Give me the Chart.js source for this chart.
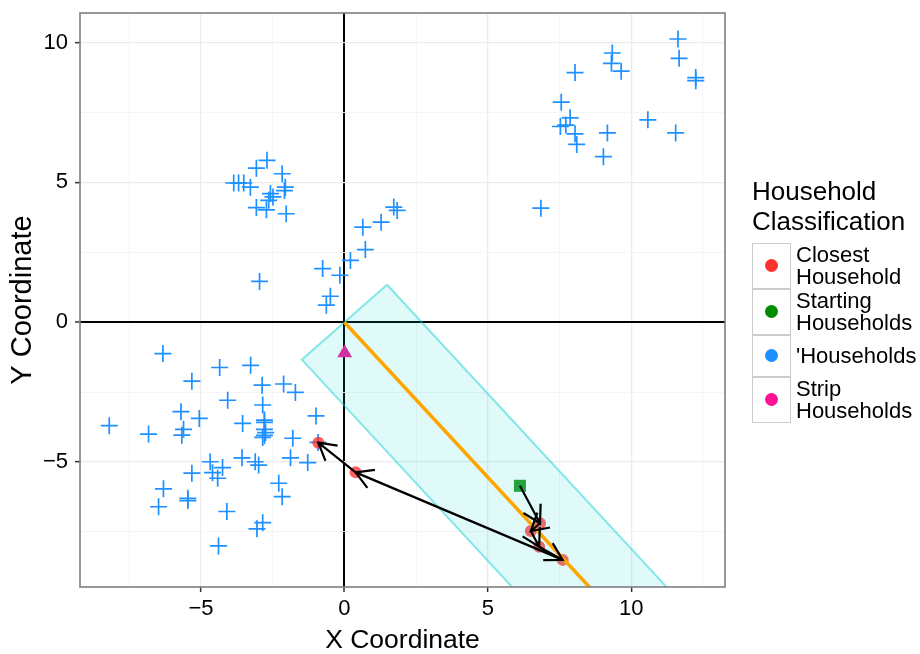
<!DOCTYPE html>
<html>
<head>
<meta charset="utf-8">
<script src="https://cdn.jsdelivr.net/npm/chart.js@4.4.0/dist/chart.umd.min.js"></script>
<style>
  body { margin: 0; background: #fff; }
  #wrap { position: relative; width: 920px; height: 654px; font-family: "Liberation Sans", Arial, sans-serif; }
  #legend { position: absolute; left: 752px; top: 176px; color: #000; }
  #legend .title { font-size: 26px; line-height: 30px; margin-bottom: 6.7px; }
  .row { display: flex; align-items: stretch; min-height: 42px; }
  .key { width: 39px; box-sizing: border-box; border: 1.3px solid #cccccc; position: relative; }
  .key span { position: absolute; left: 50%; top: 50%; width: 13px; height: 13px; margin: -6.5px 0 0 -6.5px; border-radius: 50%; }
  .lab { font-size: 22px; line-height: 22px; padding: 1px 0 1px 5px; display: flex; align-items: center; white-space: pre-line; }
</style>
</head>
<body>
<div id="wrap">
  <canvas id="myChart" width="920" height="654"></canvas>
  <div id="legend"><div class="title">Household<br>Classification</div><div id="keys"></div></div>
</div>
<script>
// blue crosses
const households = [
  {x: 11.63, y: 10.13}, {x: 11.67, y: 9.44}, {x: 9.34, y: 9.63}, {x: 9.31, y: 9.26}, {x: 9.65, y: 8.98},
  {x: 8.04, y: 8.93}, {x: 12.25, y: 8.75}, {x: 12.25, y: 8.64}, {x: 7.56, y: 7.87}, {x: 7.87, y: 7.31},
  {x: 7.53, y: 7.0}, {x: 7.72, y: 7.05}, {x: 8.04, y: 6.74}, {x: 8.1, y: 6.36}, {x: 9.17, y: 6.77},
  {x: 9.03, y: 5.92}, {x: 10.58, y: 7.24}, {x: 11.55, y: 6.77}, {x: 6.85, y: 4.08},
  {x: -2.70, y: 5.79}, {x: -3.07, y: 5.51}, {x: -2.17, y: 5.31}, {x: -3.86, y: 4.98}, {x: -3.69, y: 4.98},
  {x: -3.51, y: 4.98}, {x: -3.28, y: 4.83}, {x: -2.06, y: 4.83}, {x: -2.09, y: 4.71}, {x: -2.58, y: 4.6},
  {x: -2.49, y: 4.48}, {x: -2.64, y: 4.36}, {x: -3.07, y: 4.1}, {x: -2.72, y: 4.02}, {x: -2.03, y: 3.88},
  {x: -2.96, y: 1.46},
  {x: 1.72, y: 4.12}, {x: 1.84, y: 4.0}, {x: 1.28, y: 3.58}, {x: 0.64, y: 3.4}, {x: 0.73, y: 2.6},
  {x: 0.21, y: 2.21}, {x: -0.76, y: 1.92}, {x: -0.16, y: 1.68}, {x: -0.49, y: 0.93}, {x: -0.63, y: 0.61},
  {x: -6.33, y: -1.12}, {x: -4.35, y: -1.62}, {x: -3.27, y: -1.54}, {x: -5.32, y: -2.11}, {x: -2.87, y: -2.25},
  {x: -2.12, y: -2.21}, {x: -1.71, y: -2.51}, {x: -4.07, y: -2.79}, {x: -2.85, y: -2.96}, {x: -5.70, y: -3.2},
  {x: -5.06, y: -3.44}, {x: -2.79, y: -3.5}, {x: -2.79, y: -3.58}, {x: -0.99, y: -3.35}, {x: -8.20, y: -3.70},
  {x: -6.83, y: -4.0}, {x: -5.61, y: -3.83}, {x: -5.67, y: -4.04}, {x: -3.55, y: -3.62}, {x: -2.79, y: -3.83},
  {x: -2.75, y: -3.95}, {x: -2.79, y: -4.05}, {x: -2.85, y: -4.12}, {x: -1.80, y: -4.15}, {x: -3.57, y: -4.85},
  {x: -3.11, y: -4.99}, {x: -2.99, y: -5.11}, {x: -1.88, y: -4.85}, {x: -1.28, y: -5.02}, {x: -4.68, y: -4.99},
  {x: -4.25, y: -5.2}, {x: -4.60, y: -5.38}, {x: -4.42, y: -5.58}, {x: -5.32, y: -5.40}, {x: -2.29, y: -5.76},
  {x: -2.17, y: -6.24}, {x: -6.31, y: -5.96}, {x: -6.48, y: -6.60}, {x: -5.46, y: -6.30}, {x: -5.46, y: -6.38},
  {x: -4.10, y: -6.77}, {x: -2.85, y: -7.17}, {x: -3.05, y: -7.39}, {x: -4.39, y: -8.0}, {x: -0.92, y: -4.3}
];
const closestHouseholds = [
  {x: 6.82, y: -7.19}, {x: 6.50, y: -7.47}, {x: 6.79, y: -8.03}, {x: 7.61, y: -8.50}, {x: 0.39, y: -5.37}, {x: -0.91, y: -4.31}
];
const startingHouseholds = [{x: 6.12, y: -5.85}];
const stripHouseholds = [{x: 0.01, y: -1.1}];
const stripLine = [{x: 0, y: 0}, {x: 9, y: -9.98}];
const stripBox = [
  {x: 1.486, y: 1.34}, {x: -1.486, y: -1.34}, {x: 8.564, y: -12.485}, {x: 11.536, y: -9.805}, {x: 1.486, y: 1.34}
];
const arrowPath = [startingHouseholds[0]].concat(closestHouseholds);

const xTicks = [-7.5, -5, -2.5, 0, 2.5, 5, 7.5, 10, 12.5];
const yTicks = [-7.5, -5, -2.5, 0, 2.5, 5, 7.5, 10];
const majorTicks = [-5, 0, 5, 10];

const legendLabels = ['Closest\nHousehold', 'Starting\nHouseholds', "'Households", 'Strip\nHouseholds'];
const legendColors = ['#FF3030', '#008B00', '#1E90FF', '#FF1493'];

const keys = document.getElementById('keys');
legendLabels.forEach(function (l, i) {
  const row = document.createElement('div');
  row.className = 'row';
  row.innerHTML = '<div class="key"><span style="background:' + legendColors[i] + '"></span></div><div class="lab"></div>';
  row.querySelector('.lab').textContent = l;
  keys.appendChild(row);
});

function fmt(v) {
  return v < 0 ? '\u2212' + Math.abs(v) : String(v);
}

const arrowHeads = {
  id: 'arrowHeads',
  afterDatasetsDraw(chart) {
    const {ctx, chartArea, scales} = chart;
    ctx.save();
    ctx.beginPath();
    ctx.rect(chartArea.left, chartArea.top, chartArea.right - chartArea.left, chartArea.bottom - chartArea.top);
    ctx.clip();
    ctx.strokeStyle = '#000';
    ctx.lineWidth = 2.2;
    for (let i = 1; i < arrowPath.length; i++) {
      const x0 = scales.x.getPixelForValue(arrowPath[i - 1].x);
      const y0 = scales.y.getPixelForValue(arrowPath[i - 1].y);
      const x1 = scales.x.getPixelForValue(arrowPath[i].x);
      const y1 = scales.y.getPixelForValue(arrowPath[i].y);
      const ang = Math.atan2(y1 - y0, x1 - x0);
      ctx.beginPath();
      ctx.moveTo(x1 + 19.5 * Math.cos(ang + Math.PI - Math.PI / 6), y1 + 19.5 * Math.sin(ang + Math.PI - Math.PI / 6));
      ctx.lineTo(x1, y1);
      ctx.lineTo(x1 + 19.5 * Math.cos(ang + Math.PI + Math.PI / 6), y1 + 19.5 * Math.sin(ang + Math.PI + Math.PI / 6));
      ctx.stroke();
    }
    ctx.restore();
  },
  afterDraw(chart) {
    const {ctx, chartArea} = chart;
    ctx.save();
    ctx.strokeStyle = '#7F7F7F';
    ctx.lineWidth = 1.6;
    ctx.strokeRect(chartArea.left, chartArea.top, chartArea.right - chartArea.left, chartArea.bottom - chartArea.top);
    ctx.restore();
  }
};

Chart.defaults.font.family = '"Liberation Sans", Arial, sans-serif';
Chart.defaults.color = '#000';

function gridOpts() {
  return {
    color: c => c.tick.value === 0 ? '#000' : (majorTicks.includes(c.tick.value) ? '#EBEBEB' : '#F4F4F4'),
    lineWidth: c => c.tick.value === 0 ? 2 : (majorTicks.includes(c.tick.value) ? 1.3 : 0.9),
    tickColor: c => majorTicks.includes(c.tick.value) ? '#333333' : 'rgba(0,0,0,0)',
    tickLength: 5,
    tickWidth: 1.5
  };
}

const ctx = document.getElementById('myChart');
new Chart(ctx, {
  type: 'scatter',
  data: {
    datasets: [
      {
        type: 'line', label: 'arrows', data: arrowPath,
        borderColor: '#000', borderWidth: 2.2, pointRadius: 0, fill: false, tension: 0, borderJoinStyle: 'round'
      },
      {
        type: 'line', label: 'strip line', data: stripLine,
        borderColor: '#FFA500', borderWidth: 3.5, pointRadius: 0, fill: false, tension: 0
      },
      {
        type: 'line', label: 'strip', data: stripBox,
        borderColor: 'rgba(0,205,205,0.45)', borderWidth: 2, backgroundColor: 'rgba(0,210,210,0.12)',
        pointRadius: 0, fill: 'shape', tension: 0
      },
      {
        label: 'Strip Households', data: stripHouseholds,
        pointStyle: 'triangle', pointRadius: 8.5, backgroundColor: '#F0189A', borderWidth: 0
      },
      {
        label: 'Starting Households', data: startingHouseholds,
        pointStyle: 'rect', pointRadius: 8.5, backgroundColor: 'rgba(0,139,0,0.85)', borderWidth: 0
      },
      {
        label: 'Closest Household', data: closestHouseholds,
        pointStyle: 'circle', pointRadius: 6, backgroundColor: 'rgba(255,40,40,0.75)', borderWidth: 0
      },
      {
        label: "'Households", data: households,
        pointStyle: 'cross', pointRadius: 8.5, borderColor: '#1E90FF', borderWidth: 1.7
      }
    ]
  },
  options: {
    responsive: false,
    animation: false,
    events: [],
    layout: { padding: { left: 0, top: 13, right: 195, bottom: 0 } },
    plugins: { legend: { display: false }, tooltip: { enabled: false } },
    scales: {
      x: {
        type: 'linear', min: -9.22, max: 13.27,
        afterBuildTicks: s => { s.ticks = xTicks.map(v => ({value: v})); },
        afterFit: s => { s.height = 67; s.paddingLeft = 0; s.paddingRight = 0; },
        grid: gridOpts(),
        border: { display: false },
        ticks: { autoSkip: false, maxRotation: 0, padding: 4, font: { size: 22, lineHeight: 1.2 },
          callback: v => majorTicks.includes(v) ? fmt(v) : '' },
        title: { display: true, text: 'X Coordinate', font: { size: 26.5, lineHeight: 1 }, padding: { top: 0, bottom: 0 } }
      },
      y: {
        type: 'linear', min: -9.47, max: 11.06,
        afterBuildTicks: s => { s.ticks = yTicks.map(v => ({value: v})); },
        afterFit: s => { s.width = 80; s.paddingTop = 0; s.paddingBottom = 0; },
        grid: gridOpts(),
        border: { display: false },
        ticks: { autoSkip: false, padding: 7, font: { size: 22 },
          callback: v => majorTicks.includes(v) ? fmt(v) : '' },
        title: { display: true, text: 'Y Coordinate', font: { size: 29, lineHeight: 1 }, padding: { top: 8.5, bottom: 0 } }
      }
    }
  },
  plugins: [arrowHeads]
});
</script>
</body>
</html>
